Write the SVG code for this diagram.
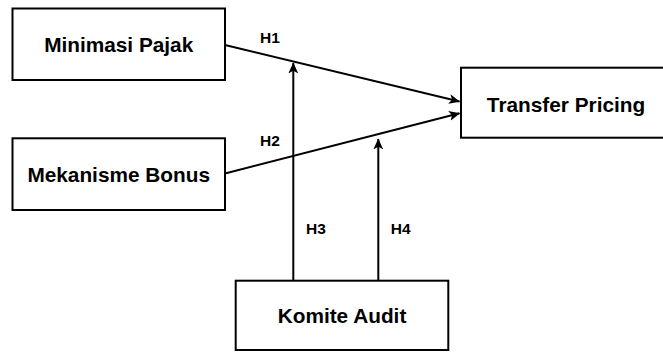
<svg xmlns="http://www.w3.org/2000/svg" width="663" height="352" viewBox="0 0 663 352">
<style>
.box{fill:#fff;stroke:#000;stroke-width:2}
.lbl{font-family:"Liberation Sans",Arial,sans-serif;font-weight:bold;font-size:20.8px;fill:#000;text-anchor:middle}
.h{font-family:"Liberation Sans",Arial,sans-serif;font-weight:bold;font-size:15.5px;fill:#000}
.edge{fill:none;stroke:#000;stroke-width:2}
</style>
<defs>
<marker id="arr" viewBox="0 0 10 10" refX="9.5" refY="5" markerWidth="11" markerHeight="11" markerUnits="userSpaceOnUse" orient="auto">
<path d="M0,0.5 L10,5 L0,9.5 L2.5,5 Z" fill="#000"/>
</marker>
</defs>
<rect width="663" height="352" fill="#fff"/>
<g id="connectors">
<line class="edge" x1="225" y1="45" x2="459.5" y2="101.5" marker-end="url(#arr)"/>
<line class="edge" x1="225" y1="173.5" x2="459.5" y2="113.3" marker-end="url(#arr)"/>
<line class="edge" x1="293.3" y1="280.7" x2="293.3" y2="63" marker-end="url(#arr)"/>
<line class="edge" x1="378.3" y1="280.7" x2="378.3" y2="139" marker-end="url(#arr)"/>
<text class="h" x="260" y="42.7">H1</text>
<text class="h" x="260" y="145.7">H2</text>
<text class="h" x="306" y="234">H3</text>
<text class="h" x="390.7" y="234">H4</text>
</g>
<g id="minimasi-pajak">
<rect class="box" x="12.5" y="8.5" width="212.5" height="71.5"/>
<text class="lbl" x="118.7" y="52.3">Minimasi Pajak</text>
</g>
<g id="mekanisme-bonus">
<rect class="box" x="12.5" y="138.3" width="212.5" height="71.7"/>
<text class="lbl" x="118.7" y="181.7">Mekanisme Bonus</text>
</g>
<g id="transfer-pricing">
<rect class="box" x="461" y="67.7" width="210" height="70"/>
<text class="lbl" x="566" y="111.7">Transfer Pricing</text>
</g>
<g id="komite-audit">
<rect class="box" x="235.7" y="280.7" width="212.6" height="69.3"/>
<text class="lbl" x="342" y="323.3">Komite Audit</text>
</g>
</svg>
